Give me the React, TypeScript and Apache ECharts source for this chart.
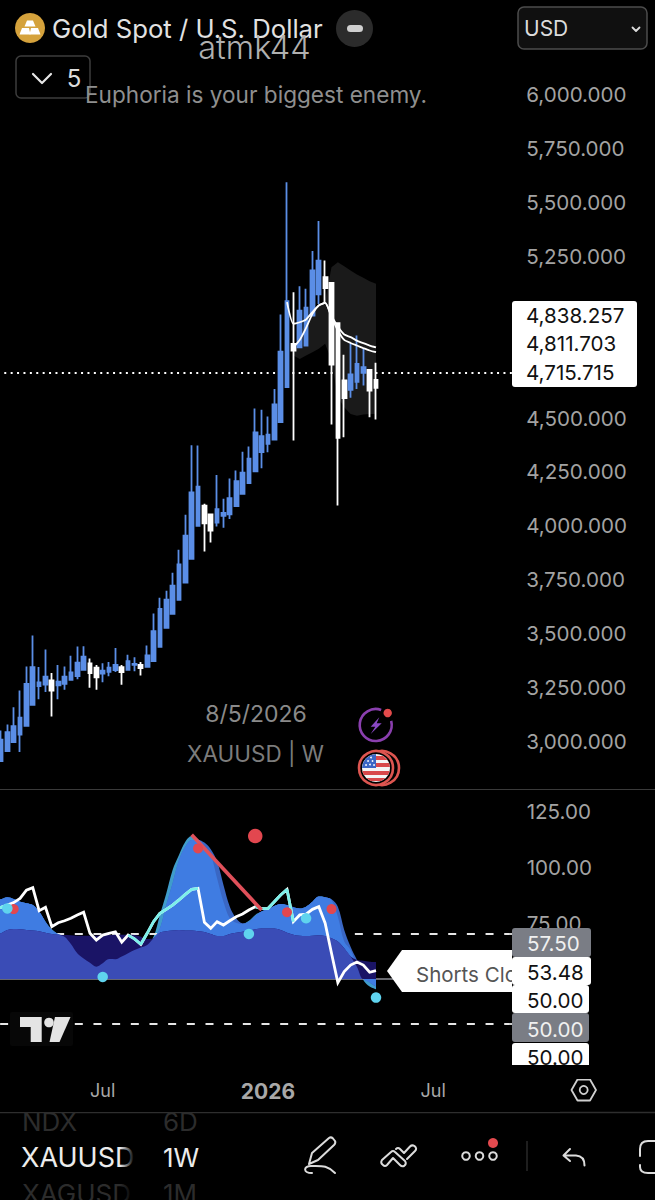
import React, { useEffect, useRef } from "react";
import * as echarts from "echarts";

// ---------- price pane (weekly XAUUSD) ----------
const highs = [3051,3079,3159,3236,3348,3492,3345,3427,3318,3355,3348,3397,3440,3442,3385,3355,3363,3369,3433,3355,3402,3391,3369,3445,3594,3666,3699,3782,3889,4051,4374,4372,4102,4053,4236,4125,4219,4257,4343,4368,4544,4538,4507,4635,4980,5593,5083,5111,5099,5274,5413,5230,5127,4940,4793,4848,4882,4821,4725,4756];
const bodyTops = [3008,3043,3071,3110,3267,3345,3274,3301,3283,3278,3301,3320,3365,3393,3362,3342,3328,3342,3355,3345,3372,3360,3355,3399,3512,3615,3658,3723,3821,3955,4155,4182,4093,4053,4077,4060,4128,4207,4247,4312,4433,4416,4423,4563,4808,5042,4844,4998,5012,5184,5230,5153,5127,4940,4674,4702,4751,4736,4723,4677];
const bodyBottoms = [2909,2955,2997,3032,3073,3170,3257,3264,3236,3260,3267,3286,3303,3332,3317,3297,3315,3323,3331,3322,3332,3355,3340,3346,3373,3439,3527,3592,3657,3737,3847,4000,4012,3978,4015,4046,4053,4091,4148,4198,4253,4342,4380,4400,4481,4643,4813,4828,4836,4975,5073,5102,4748,4408,4592,4631,4668,4709,4627,4640];
const lows = [2909,2955,2997,2951,3073,3170,3196,3230,3116,3196,3240,3286,3289,3332,3249,3240,3275,3303,3322,3263,3332,3326,3306,3346,3373,3439,3527,3592,3657,3737,3847,4000,3881,3923,3997,3991,4032,4091,4148,4198,4253,4267,4341,4400,4481,4643,4396,4828,4836,4975,5029,5029,4470,4094,4411,4594,4635,4651,4504,4493];
const bearishWeeks = [8,14,15,19,22,32,33,46,51,52,53,54,58,59];
const firstCandleWeek = 1;

const maFast = [5037,4937,4944,4957,4991,5022,5034,4975,4924,4887,4875,4859,4847,4836,4828];
const maFastStart = 46;
const maSlow = [4828,4862,4918,4983,5022,5034,4968,4906,4862,4848,4836,4824,4813,4805];
const maSlowStart = 47;
const cloudTop = [4798,4890,4944,4983,5022,5045,5199,5222,5204,5184,5165,5150,5134,5122];
const cloudBottom = [4790,4774,4790,4805,4821,4844,4767,4596,4550,4519,4511,4516,4519,4519];
const cloudStart = 47;
const lastPriceLine = 4709;
const priceBoxes = ["4,838.257", "4,811.703", "4,715.715"];

// ---------- indicator pane ----------
const oscLine = [81.5,82.0,83.0,84.1,86.0,89.7,90.8,80.5,82.0,73.4,75.1,76.0,77.1,78.6,79.8,70.4,67.4,69.6,70.4,71.1,66.4,69.6,67.9,65.5,70.4,75.6,79.3,81.1,83.0,85.3,87.8,90.0,90.5,75.3,72.6,75.6,74.1,76.0,77.8,79.0,80.8,82.3,81.4,81.5,84.5,87.5,90.0,75.6,78.6,79.0,81.1,82.3,74.9,61.5,48.4,53.3,56.2,57.6,56.2,53.0,53.7];
const waveLead = [85.0,85.6,86.5,85.7,84.5,83.8,83.0,80.1,75.6,72.2,70.1,68.9,65.6,61.5,59.2,57.3,55.5,57.0,58.9,58.8,60.0,61.5,62.9,64.1,65.6,68.9,78.6,88.2,98.7,105.4,111.3,113.8,112.4,109.4,105.4,94.9,84.5,77.1,75.1,74.6,76.0,78.6,80.1,81.1,82.6,83.5,83.0,82.0,81.5,82.3,84.5,86.8,86.5,85.3,77.8,66.7,62.9,55.5,49.6,46.6,45.4];
const waveLag = [85.0,85.6,86.5,85.7,84.5,83.8,83.0,80.1,75.6,71.9,70.1,68.9,65.6,61.5,59.2,57.3,55.5,57.0,58.9,58.8,60.0,61.5,62.9,64.1,65.2,68.2,72.6,83.0,92.7,103.1,109.1,112.1,112.1,110.9,107.9,102.4,92.0,82.3,77.1,74.9,75.6,78.1,80.1,81.1,82.6,83.5,83.0,82.0,81.5,82.3,84.5,86.8,86.5,85.6,82.3,71.9,64.4,58.5,52.5,48.4,46.6];
const waveSlow = [69.5,70.4,71.9,72.3,72.2,71.9,71.6,71.3,70.7,70.1,69.8,69.6,69.5,69.3,69.3,69.3,69.3,69.5,69.6,69.8,69.8,69.8,69.6,68.9,67.9,68.2,70.7,71.3,71.6,71.9,71.7,71.6,71.3,71.0,70.1,69.2,69.2,70.1,70.7,71.1,71.6,72.2,72.5,72.6,72.5,71.9,70.7,69.8,69.3,69.2,69.3,69.5,69.2,68.2,66.7,63.7,60.0,58.5,58.2,57.7,57.6];
const cyanSpans = [[0, 2], [21, 32], [41, 47]];
const redDots: [number, number, number][] = [[3, 81.2, 10], [32, 108.3, 10], [41, 113.8, 14.5], [46, 79.8, 10], [53, 81.2, 10]];
const cyanDots: [number, number][] = [[2, 81.5], [17, 50.9], [40, 70.1], [49, 77.1], [60, 41.7]];
const divergence: [number, number][] = [[31, 114.4], [42, 80.8]];
const oscLevels = [70, 50, 30];
const oscBoxes = ["57.50", "53.48", "50.00", "50.00", "50.00"];

// ---------- time axis ----------
const weekCount = 82;
const timeLabels: Record<number, string> = { 17: "Jul", 43: "2026", 69: "Jul" };
const weeks = Array.from({ length: weekCount }, (_, i) => timeLabels[i] ?? `w${i}`);

const BLUE = "#5b8ee6";
const WHITE = "#ffffff";
const FONT = "Inter";
const axisGray = "#a3a3a3";

function pad<T>(vals: T[], start: number): (T | null)[] {
  const out: (T | null)[] = Array(start).fill(null);
  return out.concat(vals);
}

// part of two waves that both share, measured from the 50 line
function overlap(a: number, b: number) {
  if (a >= 50 && b >= 50) return Math.min(a, b);
  if (a < 50 && b < 50) return Math.max(a, b);
  return 50;
}

let shapesReady = false;
function registerShapes() {
  if (shapesReady) return;
  shapesReady = true;
  const reg = (n: string, d: string) => echarts.graphic.registerShape(n, echarts.graphic.extendPath(d, {}));
  reg("penBody", "M309 1164 L312 1153 L329 1138 Q331 1136.5 333 1138.5 L335 1141 Q336 1143 334 1145 L318 1160 Z");
  reg("penLine", "M312 1173 C303 1173 303 1166 311 1166 C322 1166 327 1165 335 1173");
  reg("zig1", "M382 1160 L391 1152 Q393 1150 395 1152 L405 1161 Q407 1164 404 1166 Q402 1167 400 1165 L393 1158 L387 1165 Q385 1167 383 1165 Q380 1163 382 1160 Z");
  reg("zig2", "M396 1149 Q398 1147 400 1149 L404 1153 L410 1146.5 Q412 1144.5 414.5 1146 Q417.5 1148.5 415 1151 L407 1159");
  reg("undo", "M570 1149 L563.5 1155.5 L570 1161 M564 1155.5 H576 Q584.5 1156 584.5 1165.5");
  reg("bracket", "M655 1141 H648 Q640 1141 640 1149 V1156 M640 1165 V1167 Q640 1173 648 1173 H655");
  reg("chev", "M33 74 L42 83 L51 74");
  reg("usdChev", "M632.5 27.5 L636 31 L639.5 27.5");
}

function buildGraphics() {
  const Z = 100;
  const t = (text: string, x: number, y: number, size: number, fill: string, extra: any = {}) => ({
    type: "text", x, y, z: extra.z ?? Z + 5,
    style: { text, fontFamily: FONT, fontSize: size, fill, textVerticalAlign: "middle", verticalAlign: "middle", align: extra.align ?? "left", fontWeight: extra.weight ?? 400 },
  });
  const rect = (x: number, y: number, w: number, h: number, fill: string, r = 0, z = Z, stroke?: string) => ({
    type: "rect", z, shape: { x, y, width: w, height: h, r }, style: { fill, stroke: stroke ?? undefined, lineWidth: stroke ? 1.5 : 0 },
  });
  const poly = (points: number[][], fill: string, z = Z + 2) => ({ type: "polygon", z, shape: { points }, style: { fill } });
  const circ = (cx: number, cy: number, r: number, fill: string, stroke?: string, lw = 2, z = Z + 2) => ({
    type: "circle", z, shape: { cx, cy, r }, style: { fill, stroke: stroke ?? undefined, lineWidth: stroke ? lw : 0 },
  });
  const shape = (type: string, stroke: string, lw = 2, z = Z + 2) => ({ type, z, style: { fill: "none", stroke, lineWidth: lw, lineCap: "round", lineJoin: "round" } });

  const icons = "#dcdcdc";
  const boxRows = [
    [928, 29, "#7a7d85", "#f0f0f0", 591],
    [957, 28, "#ffffff", "#111111", 591],
    [985, 28, "#ffffff", "#111111", 589],
    [1013, 29, "#7a7d85", "#f0f0f0", 589],
    [1043, 28, "#ffffff", "#111111", 589],
  ] as const;

  return [
    // pane separators
    { type: "line", z: Z, shape: { x1: 0, y1: 789.5, x2: 655, y2: 789.5 }, style: { stroke: "#3a3a3a", lineWidth: 1 } },
    { type: "line", z: Z, shape: { x1: 0, y1: 1112.5, x2: 655, y2: 1112.5 }, style: { stroke: "#2e2e2e", lineWidth: 1.5 } },

    // header
    circ(30, 28, 15, "#d5a23c"),
    poly([[27, 20.5], [33, 20.5], [35.5, 26.5], [24.5, 26.5]], "#fff", Z + 3),
    poly([[22, 28], [29, 28], [30.5, 34.5], [19.5, 34.5]], "#fff", Z + 3),
    poly([[31, 28], [38, 28], [40.5, 34.5], [29.5, 34.5]], "#fff", Z + 3),
    t("Gold Spot / U.S. Dollar", 52, 28, 25.7, "#e2e2e2"),
    circ(354.5, 28.5, 18.5, "#2b2b2b"),
    rect(347, 25, 16, 7, "#cfcfcf", 3.5, Z + 3),
    t("atmk44", 254.5, 47, 32.5, "#b0b0b0", { align: "center", weight: 300, z: Z + 6 }),
    t("Euphoria is your biggest enemy.", 85, 94, 22.6, "#8f8f8f"),
    rect(16, 56, 74, 42, "#000", 5, Z + 4, "#3c3c3c"),
    { ...shape("chev", "#e6e6e6", 2.2, Z + 5) },
    t("5", 74, 78, 24, "#dcdcdc", { align: "center" }),
    rect(518, 7, 129, 42, "#101010", 6, Z, "#4c4c4c"),
    t("USD", 524, 28, 21, "#dcdcdc"),
    shape("usdChev", "#dcdcdc", 1.8),

    // price scale boxes
    rect(512, 301, 125, 86, "#ffffff", 3, Z),
    ...priceBoxes.map((v, i) => t(v, 526, [315, 343, 372][i], 20.6, "#111")),

    // watermark labels
    t("8/5/2026", 256, 714, 23, "#8a8a8a", { align: "center" }),
    t("XAUUSD | W", 255.5, 753, 22.5, "#7c7c7c", { align: "center" }),

    // event icons
    { type: "arc", z: Z + 2, shape: { cx: 375.7, cy: 725, r: 16, startAngle: -0.26, endAngle: 5.06, clockwise: true }, style: { fill: "none", stroke: "#8a3fae", lineWidth: 2.6 } },
    poly([[379.3, 717.3], [370.7, 726.7], [375.3, 726.7], [370.7, 734], [381.7, 723.3], [376.7, 723.3]], "#8a48c4"),
    circ(387.7, 713, 4.2, "#e34b4b"),
    circ(382, 768, 17, "#000", "#dd5550", 2.6),
    circ(376, 768, 17, "#000", "#dd5550", 2.6, Z + 3),
    circ(376, 768, 14, "#f4f4f4", undefined, 2, Z + 4),
    poly([[376, 756], [383.2, 756], [387.5, 760], [376, 760]], "#d8484a", Z + 5),
    poly([[376, 763], [389.1, 763], [390, 767], [376, 767]], "#d8484a", Z + 5),
    poly([[362.3, 771], [389.7, 771], [388.1, 775], [363.9, 775]], "#d8484a", Z + 5),
    poly([[366.2, 778], [385.8, 778], [381.2, 781], [370.8, 781]], "#d8484a", Z + 5),
    poly([[376, 754], [371, 754.9], [366, 758.2], [363, 763], [362, 768], [376, 768]], "#3b66c4", Z + 5),
    ...[[368, 761], [372.5, 761], [370, 764.5], [374, 765], [371, 757.5], [366, 765]].map(([x, y]) => circ(x, y, 0.9, "#fff", undefined, 0, Z + 6)),

    // lower pane boxes and alert tag
    poly([[387, 971], [402, 950], [512, 950], [512, 992], [402, 992]], "#ffffff"),
    t("Shorts Closed", 416, 974, 20.5, "#555555", { z: Z + 3 }),
    ...boxRows.map(([y, h, fill, , right]) => rect(512, y, right - 512, h, fill, 3, Z + 4)),
    ...oscBoxes.map((v, i) => t(v, 527, [943, 972.5, 1000, 1029, 1057.5][i], 20.6, boxRows[i][3], { z: Z + 6 })),
    rect(505, 1065, 100, 14, "#000", 0, Z + 7),

    // TradingView logo
    rect(10, 1012, 63, 34, "#070707", 2, Z),
    poly([[20, 1017], [41.7, 1017], [41.7, 1042], [30.7, 1042], [30.7, 1027], [20, 1027]], "#e4e4e4"),
    circ(49, 1022.5, 4.8, "#e4e4e4"),
    poly([[55, 1017], [70.5, 1017], [59.5, 1042], [49.5, 1042]], "#e4e4e4"),

    // scale settings
    { type: "polygon", z: Z + 2, shape: { points: [[571.5, 1090], [577.5, 1079.5], [590, 1079.5], [596, 1090], [590, 1100.5], [577.5, 1100.5]] }, style: { fill: "none", stroke: "#cfcfcf", lineWidth: 1.8, lineJoin: "round" } },
    circ(583.7, 1090, 4, "none", "#cfcfcf", 1.8),

    // symbol / interval pickers
    t("NDX", 22, 1121, 26, "#2c2c2c"),
    t("6D", 163, 1121, 26, "#2c2c2c"),
    rect(0, 1100, 560, 12, "#000", 0, Z + 6),
    t("XAUUSD", 21, 1157, 27, "#ececec"),
    t("1W", 163, 1157, 26, "#ececec"),
    t("XAGUSD", 22, 1193, 26, "#2c2c2c"),
    t("1M", 163, 1193, 26, "#2c2c2c"),
    { type: "rect", z: Z + 7, shape: { x: 120, y: 1135, width: 18, height: 65 }, style: { fill: { type: "linear", x: 0, y: 0, x2: 1, y2: 0, colorStops: [{ offset: 0, color: "rgba(0,0,0,0)" }, { offset: 0.8, color: "#000" }, { offset: 1, color: "#000" }] } } },

    // toolbar
    shape("penBody", icons, 2), shape("penLine", icons, 2),
    shape("zig1", icons, 2), shape("zig2", icons, 2),
    circ(466, 1156, 3.8, "none", icons, 2), circ(479.5, 1156, 3.8, "none", icons, 2), circ(493, 1156, 3.8, "none", icons, 2),
    circ(493, 1143, 5, "#e44a4f"),
    { type: "line", z: Z, shape: { x1: 527, y1: 1141, x2: 527, y2: 1171 }, style: { stroke: "#333", lineWidth: 1.2 } },
    shape("undo", icons, 2), shape("bracket", icons, 2),
  ];
}

export default function App() {
  const ref = useRef<HTMLDivElement>(null);
  useEffect(() => {
    document.body.style.margin = "0";
    document.body.style.background = "#000";
    registerShapes();
    const chart = echarts.init(ref.current!, undefined, { renderer: "svg" });

    const candles: any[] = Array(firstCandleWeek).fill("-").concat(highs.map((h, i) => {
      const down = bearishWeeks.includes(i);
      return down ? [bodyTops[i], bodyBottoms[i], lows[i], h] : [bodyBottoms[i], bodyTops[i], lows[i], h];
    }));
    const inner = waveLead.map((v, i) => overlap(v, waveLag[i]));
    const core = inner.map((v, i) => overlap(v, waveSlow[i]));
    const cyanLine = oscLine.map((v, i) => (cyanSpans.some(([a, b]) => i >= a && i <= b) ? v : null));
    const divLine = weeks.map((_, i) => {
      const hit = divergence.find((d) => d[0] === i);
      return hit ? hit[1] : null;
    });

    const area = (name: string, data: number[], color: string, z: number) => ({
      name, type: "line", xAxisIndex: 1, yAxisIndex: 1, data, smooth: 0.35, symbol: "none", z,
      lineStyle: { width: 0, opacity: 0 },
      areaStyle: { color, opacity: 1, origin: 50 },
    });

    chart.setOption({
      animation: false,
      backgroundColor: "#000",
      textStyle: { fontFamily: FONT },
      grid: [
        { left: -8.54, top: 40.6, width: 521.2, height: 754.8, outerBoundsMode: "none", containLabel: false },
        { left: -8.54, top: 755, width: 521.2, height: 280, outerBoundsMode: "none", containLabel: false },
      ],
      xAxis: [
        { type: "category", gridIndex: 0, data: weeks, axisLine: { show: false }, axisTick: { show: false }, axisLabel: { show: false }, splitLine: { show: false } },
        {
          type: "category", gridIndex: 1, data: weeks, axisLine: { show: false }, axisTick: { show: false }, splitLine: { show: false },
          axisLabel: {
            show: true, interval: 0, margin: 46, color: "#a8a8a8", fontSize: 18, fontFamily: FONT, verticalAlign: "top",
            formatter: (_: string, i: number) => {
              const s = timeLabels[i];
              if (!s) return "";
              return s === "2026" ? `{b|${s}}` : s;
            },
            rich: { b: { fontWeight: 700, fontSize: 21, color: "#a8a8a8", fontFamily: FONT } },
          },
        },
      ],
      yAxis: [
        {
          type: "value", gridIndex: 0, position: "right", min: 2750, max: 6250, interval: 250, scale: true,
          axisLine: { show: false }, axisTick: { show: false }, splitLine: { show: false },
          axisLabel: {
            color: axisGray, fontSize: 20.6, fontFamily: FONT, margin: 13.5, align: "left",
            formatter: (v: number) => (v === 2750 || v === 4750 || v === 6250 ? "" : `${Math.floor(v / 1000)},${String(v % 1000).padStart(3, "0")}.000`),
          },
        },
        {
          type: "value", gridIndex: 1, position: "right", min: 25, max: 150, interval: 25,
          axisLine: { show: false }, axisTick: { show: false }, splitLine: { show: false },
          axisLabel: {
            color: axisGray, fontSize: 20.6, fontFamily: FONT, margin: 14, align: "left",
            formatter: (v: number) => (v >= 75 && v <= 125 ? v.toFixed(2) : ""),
          },
        },
      ],
      graphic: { elements: buildGraphics() },
      series: [
        {
          name: "Cloud base", type: "line", stack: "cloud", data: pad(cloudBottom, cloudStart), symbol: "none", z: 1,
          lineStyle: { opacity: 0 }, areaStyle: { opacity: 0 },
        },
        {
          name: "Cloud", type: "line", stack: "cloud", data: pad(cloudTop.map((v, i) => v - cloudBottom[i]), cloudStart), symbol: "none", z: 1,
          lineStyle: { opacity: 0 }, areaStyle: { color: "#1a1a1a", opacity: 1 },
        },
        {
          name: "XAUUSD", type: "candlestick", data: candles, barWidth: 4.2, z: 2,
          itemStyle: { color: BLUE, color0: WHITE, borderColor: BLUE, borderColor0: WHITE, borderWidth: 1.8 },
          markLine: {
            silent: true, symbol: "none", z: 1, label: { show: false },
            lineStyle: { color: "#ffffff", type: [2, 4.4], width: 1.8 },
            data: [{ yAxis: lastPriceLine }],
          },
        },
        { name: "MA fast", type: "line", data: pad(maFast, maFastStart), symbol: "none", z: 3, smooth: 0.2, lineStyle: { color: "#fff", width: 1.8 } },
        { name: "MA slow", type: "line", data: pad(maSlow, maSlowStart), symbol: "none", z: 3, smooth: 0.2, lineStyle: { color: "#fff", width: 1.8 } },

        area("Wave lead", waveLead, "#3f9ccb", 4),
        area("Wave lag", waveLag, "#3a67c4", 5),
        area("Wave inner", inner, "#3f7ce2", 6),
        area("Slow", waveSlow, "#1a1466", 7),
        area("Core", core, "#3a4cb6", 8),
        {
          name: "Levels", type: "line", xAxisIndex: 1, yAxisIndex: 1, data: [], z: 9,
          markLine: {
            silent: true, symbol: "none", label: { show: false },
            data: oscLevels.map((v) => ({
              yAxis: v,
              lineStyle: v === 50
                ? { color: "#8b8d94", type: "solid", width: 1.6 }
                : { color: "#e6e6e6", type: [8, 10.67], dashOffset: 10.13, width: 1.8 },
            })),
          },
        },
        { name: "Oscillator", type: "line", xAxisIndex: 1, yAxisIndex: 1, data: oscLine, symbol: "none", z: 10, lineStyle: { color: "#ffffff", width: 2.8, join: "miter" } },
        { name: "Oscillator cyan", type: "line", xAxisIndex: 1, yAxisIndex: 1, data: cyanLine, symbol: "none", z: 11, lineStyle: { color: "#7cf0ea", width: 2.8 } },
        {
          name: "Divergence", type: "line", xAxisIndex: 1, yAxisIndex: 1, data: divLine, connectNulls: true, symbol: "none", z: 12,
          lineStyle: { color: "#e0505a", width: 3.6 },
        },
        {
          name: "Bear marks", type: "scatter", xAxisIndex: 1, yAxisIndex: 1, z: 13, symbol: "circle",
          data: redDots.map((d) => ({ value: [d[0], d[1]], symbolSize: d[2] })),
          itemStyle: { color: "#e2474f", opacity: 1 },
        },
        {
          name: "Bull marks", type: "scatter", xAxisIndex: 1, yAxisIndex: 1, z: 13, symbol: "circle", symbolSize: 10.5,
          data: cyanDots, itemStyle: { color: "#5fd3ee", opacity: 1 },
        },
      ],
    });
    return () => chart.dispose();
  }, []);
  return <div ref={ref} style={{ position: "fixed", left: 0, top: 0, width: 655, height: 1200, background: "#000" }} />;
}
